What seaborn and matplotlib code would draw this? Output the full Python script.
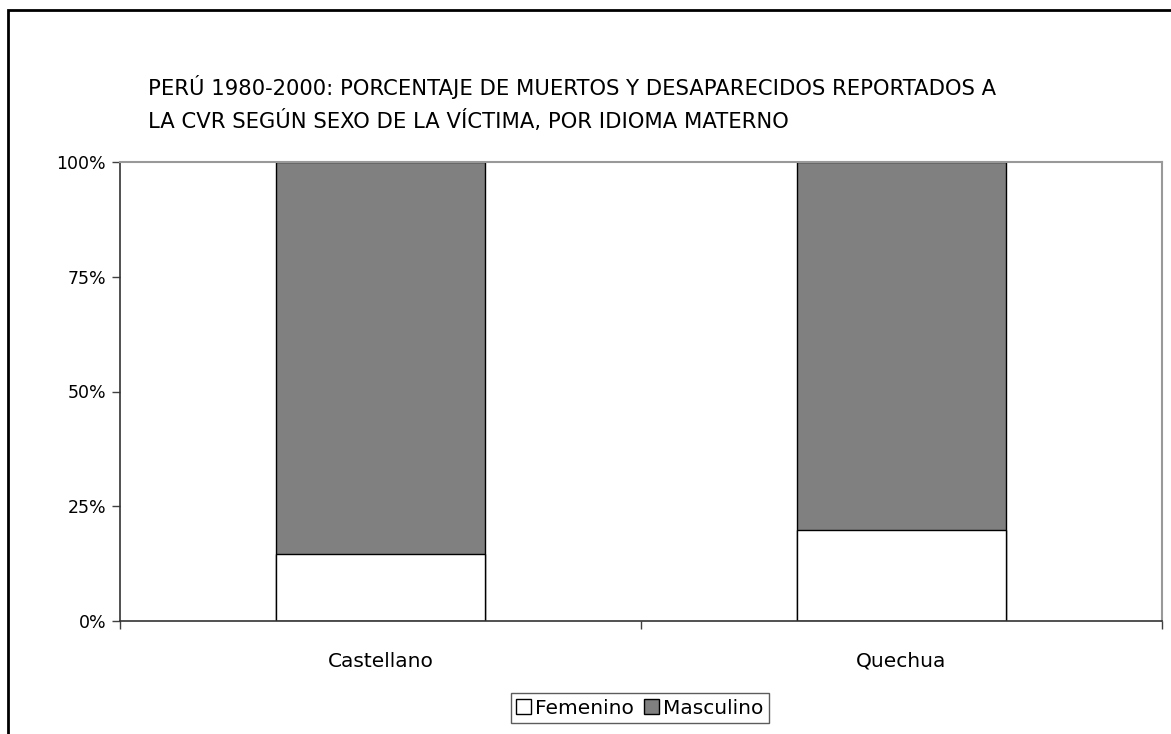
import matplotlib
matplotlib.use("Agg")
import matplotlib.pyplot as plt
import seaborn as sns
import pandas as pd
from matplotlib.patches import Rectangle, Patch

# data
idiomas = ["Castellano", "Quechua"]
femenino = [14.6, 19.8]
masculino = [85.4, 80.2]
y_ticks = [0, 25, 50, 75, 100]
y_labels = ["0%", "25%", "50%", "75%", "100%"]

df = pd.DataFrame({"idioma": idiomas, "Femenino": femenino, "Masculino": masculino})
df["total"] = df["Femenino"] + df["Masculino"]

sns.set_style("white")
plt.rcParams["font.family"] = ["DejaVu Sans"]
plt.rcParams["text.color"] = "black"
plt.rcParams["xtick.color"] = "black"
plt.rcParams["ytick.color"] = "black"

fig = plt.figure(figsize=(11.71, 7.34), dpi=100)
ax = fig.add_axes([120 / 1171, 1 - 621 / 734, 1042 / 1171, 459 / 734])

# stacked: total in grey, femenino drawn over in white
sns.barplot(data=df, x="idioma", y="total", color="#808080", width=0.4,
            edgecolor="black", linewidth=1, saturation=1, ax=ax)
sns.barplot(data=df, x="idioma", y="Femenino", color="white", width=0.4,
            edgecolor="black", linewidth=1, saturation=1, ax=ax)

ax.set_xlim(-0.5, 1.5)
ax.set_ylim(0, 100)
ax.set_xlabel("")
ax.set_ylabel("")
ax.set_yticks(y_ticks)
ax.set_yticklabels(y_labels, fontsize=12.5)
ax.tick_params(axis="y", left=True, length=6, width=1, color="#404040", pad=4)
ax.set_xticks([0, 1])
ax.set_xticklabels(idiomas, fontsize=14.5)
ax.set_xticks([-0.5, 0.5, 1.5], minor=True)
ax.tick_params(axis="x", which="major", bottom=False, length=0, pad=22)
ax.tick_params(axis="x", which="minor", bottom=True, length=6, width=1, color="#404040")

for s in ["left", "bottom"]:
    ax.spines[s].set_color("#333333")
    ax.spines[s].set_linewidth(1.2)
for s in ["top", "right"]:
    ax.spines[s].set_visible(True)
    ax.spines[s].set_color("#999999")
    ax.spines[s].set_linewidth(1.5)

fig.text(148 / 1171, 1 - 95 / 734,
         "PERÚ 1980-2000: PORCENTAJE DE MUERTOS Y DESAPARECIDOS REPORTADOS A",
         fontsize=15.2, va="baseline", ha="left")
fig.text(148 / 1171, 1 - 128 / 734,
         "LA CVR SEGÚN SEXO DE LA VÍCTIMA, POR IDIOMA MATERNO",
         fontsize=15.2, va="baseline", ha="left")

handles = [Patch(facecolor="white", edgecolor="black", label="Femenino"),
           Patch(facecolor="#808080", edgecolor="black", label="Masculino")]
leg = fig.legend(handles=handles, loc="center", bbox_to_anchor=(640 / 1171, 1 - 708 / 734),
                 ncol=2, fontsize=14.5, frameon=True, fancybox=False,
                 handlelength=0.75, handleheight=0.75, handletextpad=0.2,
                 columnspacing=0.5, borderpad=0.25, borderaxespad=0)
leg.get_frame().set_edgecolor("#333333")
leg.get_frame().set_linewidth(1)

# outer chart border
fig.patches.append(Rectangle((8 / 1171, -0.05), 1.1, 1 - 10 / 734 + 0.05,
                             transform=fig.transFigure, fill=False,
                             edgecolor="black", linewidth=2))

fig.savefig("out.png", dpi=100)
